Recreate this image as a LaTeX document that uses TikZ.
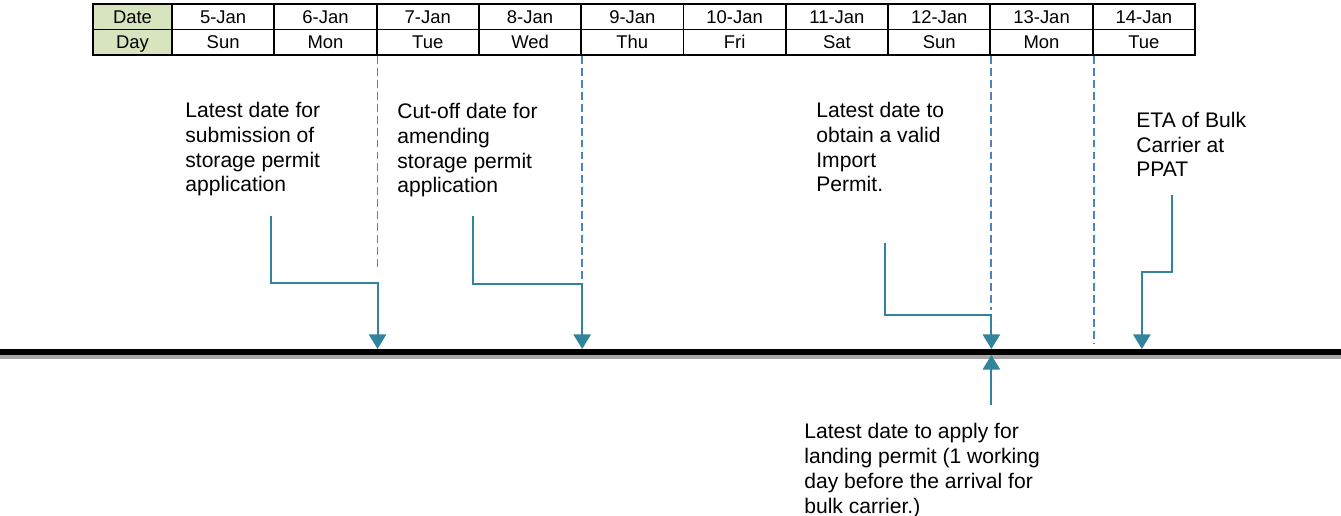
\documentclass[tikz,border=0pt]{standalone}
\usepackage{fontspec}
\setmainfont{Liberation Sans}
\usepackage{xcolor}
\usepackage{tikz}
\usetikzlibrary{calc, arrows.meta}

\definecolor{arrowteal}{HTML}{31849B}
\definecolor{guideblue}{HTML}{4F81BD}
\definecolor{headgreen}{HTML}{D7E4BD}
\definecolor{shadowgray}{HTML}{A6A6A6}

\begin{document}
\begin{tikzpicture}[x=0.02cm, y=-0.02cm,
        cell/.style={draw=black, line width=1.1pt, minimum width=2.046cm, minimum height=0.51cm, inner sep=0pt, text height=7.6pt, text depth=0pt, font=\fontsize{10.5pt}{12pt}\selectfont},
        headcell/.style={cell, fill=headgreen, minimum width=1.58cm},
        label/.style={anchor=base west, inner sep=0pt, align=left, font=\fontsize{12pt}{14.2pt}\selectfont},
        flow/.style={draw=arrowteal, line width=1.1pt, -{Triangle[width=9.8pt, length=8.3pt]}},
        guide/.style={draw=guideblue, line width=1pt, dash pattern=on 4.5pt off 2.3pt}]

        \useasboundingbox (0,0) rectangle (1341,516);

        %% Table
        \node [headcell] (date0) at (132.5,16.75) {Date};
        \node [headcell] (day0) at (132.5,42.25) {Day};
        \foreach \d/\w [count=\i] in {5/Sun, 6/Mon, 7/Tue, 8/Wed, 9/Thu, 10/Fri, 11/Sat, 12/Sun, 13/Mon, 14/Tue} {
            \node [cell] (date\i) at ({172+102.3*(\i-0.5)},16.75) {\d-Jan};
            \node [cell] (day\i) at ({172+102.3*(\i-0.5)},42.25) {\w};
        }

        %% Timeline
        \coordinate (lineTop) at (0,349);
        \coordinate (lineBot) at (0,355);
        \draw [shadowgray, line width=2.5pt] (0,357) -- (1341,357);
        \draw [black, line width=3.1pt] (0,351.8) -- (1341,351.8);

        %% Labels (base = last line)
        \node (lblSub) [label] at (185,192) {Latest date for\\submission of\\storage permit\\application};
        \node (lblAmend) [label] at (397,193) {Cut-off date for\\amending\\storage permit\\application};
        \node (lblImport) [label] at (816,192) {Latest date to\\obtain a valid\\Import\\Permit.};
        \node (lblEta) [label] at (1136,177) {ETA of Bulk\\Carrier at\\PPAT};
        \node (lblLanding) [label] at (804,513) {Latest date to apply for\\landing permit (1 working\\day before the arrival for\\bulk carrier.)};

        %% Dashed day boundaries
        \draw [guide] (day2.south east) -- ($(day2.south east |- lineTop)+(0,-81)$);
        \draw [guide] (day4.south east) -- ($(day4.south east |- lineTop)+(0,-66)$);
        \draw [guide] (day8.south east) -- ($(day8.south east |- lineTop)+(0,-39)$);
        \draw [guide] (day9.south east) -- ($(day9.south east |- lineTop)+(0,-6)$);

        %% Arrows
        \coordinate (tipSub) at (day2.south east |- lineTop);
        \coordinate (tipAmend) at (day4.south east |- lineTop);
        \coordinate (tipImport) at (day8.south east |- lineTop);
        \coordinate (tipEta) at ($(day10.south |- lineTop)+(-2,0)$);
        \coordinate (tipLanding) at (day8.south east |- lineBot);
        \coordinate (tailSub) at (271,216);
        \coordinate (tailAmend) at (473,216);
        \coordinate (tailImport) at (885,243);
        \coordinate (tailEta) at (1172,195);
        \coordinate (tailLanding) at (tipLanding |- 0,405);

        \draw [flow] (tailSub) -- ++(0,67) -| (tipSub);
        \draw [flow] (tailAmend) -- ++(0,68) -| (tipAmend);
        \draw [flow] (tailImport) -- ++(0,72) -| (tipImport);
        \draw [flow] (tailEta) -- ++(0,77) -| (tipEta);
        \draw [flow] (tailLanding) -- (tipLanding);

    \end{tikzpicture}
\end{document}
